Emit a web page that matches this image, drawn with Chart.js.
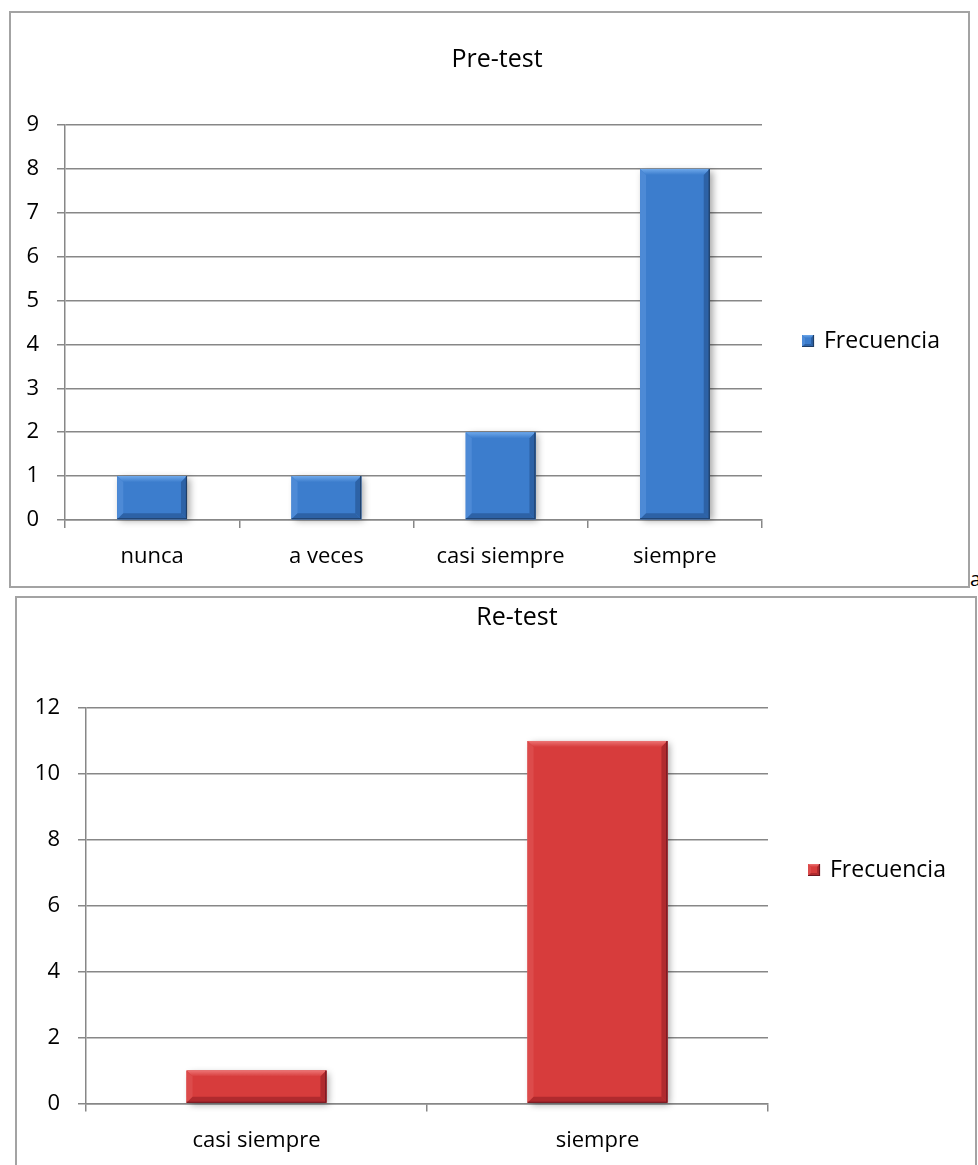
<!DOCTYPE html>
<html>
<head>
<meta charset="utf-8">
<script src="https://cdn.jsdelivr.net/npm/chart.js@4/dist/chart.umd.min.js"></script>
<style>
  html, body { margin: 0; padding: 0; background: #fff; }
  body { width: 978px; height: 1165px; position: relative; overflow: hidden; font-family: "Open Sans", sans-serif; }
  .frame { position: absolute; box-sizing: border-box; border: 2px solid #a3a3a3; background: #fff; }
  #framePre { left: 9px; top: 11px; width: 961px; height: 577px; }
  #frameRe  { left: 15px; top: 596px; width: 962px; height: 600px; }
  .frame canvas { position: absolute; left: 0; top: 0; }
  #tail { position: absolute; left: 970px; top: 569px; font-size: 20px; line-height: 20px; color: #000; }
</style>
</head>
<body>
<div class="frame" id="framePre"><canvas id="chartPre" width="957" height="573"></canvas></div>
<span id="tail">a</span>
<div class="frame" id="frameRe"><canvas id="chartRe" width="958" height="573"></canvas></div>

<script>
// ---- data ----
const preCategories = ['nunca', 'a veces', 'casi siempre', 'siempre'];
const preValues = [1, 1, 2, 8];
const preAxis = [0, 9, 1];          // min, max, step

const reCategories = ['casi siempre', 'siempre'];
const reValues = [1, 11];
const reAxis = [0, 12, 2];          // min, max, step

const seriesName = 'Frecuencia';

// ---- styles ----
const FONT = '"Open Sans", "Noto Sans", sans-serif';
const GRID = '#878787';

const BLUE = { base: '#3c7dcd', light: '#6ea8ea', side: '#4d8ad6', dark: '#2d62a6', edge: '#1f3e66' };
const RED  = { base: '#d73c3c', light: '#ec7474', side: '#dc4b4b', dark: '#b02a2e', edge: '#6e1620' };

// soft drop shadow behind each bar
const barShadow = {
  id: 'barShadow',
  beforeDatasetsDraw(chart) {
    const ctx = chart.ctx;
    ctx.save();
    chart.getDatasetMeta(0).data.forEach(bar => {
      const p = bar.getProps(['x', 'y', 'base', 'width'], true);
      ctx.shadowColor = 'rgba(0,0,0,0.35)';
      ctx.shadowBlur = 7;
      ctx.shadowOffsetX = 3;
      ctx.shadowOffsetY = 2;
      ctx.fillStyle = '#ffffff';
      ctx.fillRect(p.x - p.width / 2, p.y, p.width, p.base - p.y);
    });
    ctx.restore();
  }
};

function poly(ctx, pts, fill) {
  ctx.beginPath();
  ctx.moveTo(pts[0][0], pts[0][1]);
  for (let i = 1; i < pts.length; i++) ctx.lineTo(pts[i][0], pts[i][1]);
  ctx.closePath();
  ctx.fillStyle = fill;
  ctx.fill();
}

function bevelBox(ctx, l, t, r, b, pal, s) {
  ctx.fillStyle = pal.base;
  ctx.fillRect(l, t, r - l, b - t);
  const tg = ctx.createLinearGradient(0, t, 0, t + s);
  tg.addColorStop(0, pal.light);
  tg.addColorStop(1, pal.base);
  poly(ctx, [[l, t], [r, t], [r - s, t + s], [l + s, t + s]], tg);
  poly(ctx, [[l, t], [l + s, t + s], [l + s, b - s], [l, b]], pal.side);
  poly(ctx, [[r, t], [r, b], [r - s, b - s], [r - s, t + s]], pal.dark);
  poly(ctx, [[l, b], [r, b], [r - s, b - s], [l + s, b - s]], pal.dark);
  ctx.strokeStyle = pal.edge;
  ctx.lineWidth = 1.2;
  ctx.beginPath();
  ctx.moveTo(r - 0.5, t);
  ctx.lineTo(r - 0.5, b - 0.5);
  ctx.lineTo(l, b - 0.5);
  ctx.stroke();
}

// bevelled look drawn over the library's bar elements
const barBevel = {
  id: 'barBevel',
  afterDatasetsDraw(chart, args, opts) {
    const ctx = chart.ctx;
    ctx.save();
    chart.getDatasetMeta(0).data.forEach(bar => {
      const p = bar.getProps(['x', 'y', 'base', 'width'], true);
      const l = p.x - p.width / 2, r = p.x + p.width / 2;
      bevelBox(ctx, l, p.y, r, p.base, opts.palette, 6);
    });
    ctx.restore();
  }
};

// legend entry to the right of the plot
const sideLegend = {
  id: 'sideLegend',
  afterDraw(chart, args, opts) {
    const ctx = chart.ctx;
    const ds = chart.data.datasets[0];
    const x = chart.chartArea.right + opts.dx;
    const y = opts.y;
    ctx.save();
    bevelBox(ctx, x, y - 6, x + 12, y + 6, opts.palette, 3);
    ctx.fillStyle = '#000';
    ctx.font = '23px ' + FONT;
    ctx.textBaseline = 'middle';
    ctx.textAlign = 'left';
    ctx.fillText(ds.label, x + 22, y);
    ctx.restore();
  }
};

function makeChart(id, cfg) {
  const tickFont = { family: FONT, size: 22 };
  return new Chart(document.getElementById(id), {
    type: 'bar',
    data: {
      labels: cfg.categories,
      datasets: [{
        label: seriesName,
        data: cfg.values,
        backgroundColor: cfg.palette.base,
        borderWidth: 0,
        barPercentage: cfg.barPct,
        categoryPercentage: 1
      }]
    },
    options: {
      responsive: false,
      animation: false,
      devicePixelRatio: 1,
      // uneven side padding shifts the centred title to the right
      layout: { padding: { left: cfg.padLeft, right: cfg.padRight, top: 0, bottom: 0 } },
      plugins: {
        legend: { display: false },
        tooltip: { enabled: false },
        title: {
          display: true,
          text: cfg.title,
          color: '#000',
          font: { family: FONT, size: 25, weight: 'normal' },
          padding: { top: cfg.titleTop, bottom: cfg.titleBottom }
        },
        barBevel: { palette: cfg.palette },
        sideLegend: { palette: cfg.palette, dx: 40, y: cfg.legendY }
      },
      scales: {
        x: {
          offset: true,
          grid: { offset: true, drawOnChartArea: false, drawTicks: true, tickLength: 8, color: GRID, lineWidth: 1.5 },
          border: { display: true, color: GRID, width: 1.5 },
          ticks: { font: tickFont, color: '#000', padding: 16, maxRotation: 0, autoSkip: false },
          afterFit(s) { s.height = cfg.xHeight; }
        },
        y: {
          min: cfg.axis[0],
          max: cfg.axis[1],
          ticks: { stepSize: cfg.axis[2], font: tickFont, color: '#000', padding: 18 },
          grid: { color: GRID, lineWidth: 1.5, drawTicks: true, tickLength: 8 },
          border: { display: true, color: GRID, width: 1.5 },
          afterFit(s) { s.width = cfg.yWidth; }
        },
        // blank band on the right that holds the legend
        legendBand: {
          type: 'linear',
          position: 'right',
          grid: { display: false, drawTicks: false },
          border: { display: false },
          ticks: { display: false },
          afterFit(s) { s.width = cfg.bandWidth; }
        }
      }
    },
    plugins: [barShadow, barBevel, sideLegend]
  });
}

makeChart('chartPre', {
  categories: preCategories, values: preValues, axis: preAxis,
  title: 'Pre-test', palette: BLUE, barPct: 0.4,
  padLeft: 5, padRight: -10, yWidth: 49, bandWidth: 216, xHeight: 66,
  titleTop: 32, titleBottom: 50, legendY: 328
});

makeChart('chartRe', {
  categories: reCategories, values: reValues, axis: reAxis,
  title: 'Re-test', palette: RED, barPct: 0.41,
  padLeft: 10, padRight: -32, yWidth: 59, bandWidth: 239, xHeight: 67.5,
  titleTop: 5, titleBottom: 75, legendY: 272
});
</script>
</body>
</html>
